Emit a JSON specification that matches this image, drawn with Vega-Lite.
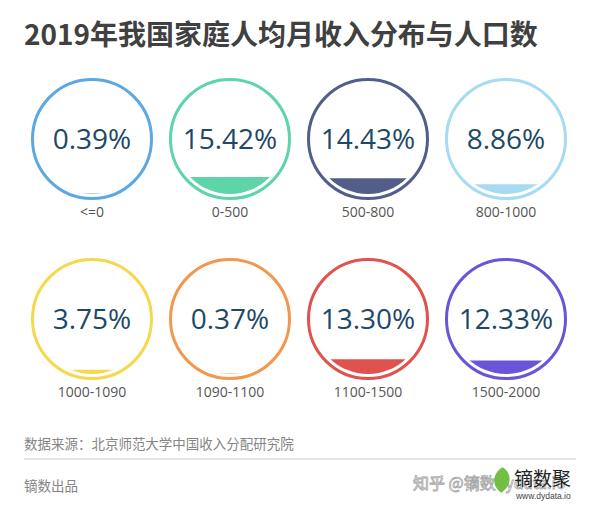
{
  "$schema": "https://vega.github.io/schema/vega-lite/v6.json",
  "background": "white",
  "padding": {"left": 23.17, "top": 0, "right": 0, "bottom": 0},
  "spacing": 0,
  "config": {
    "view": {"stroke": null},
    "font": "Noto Sans CJK SC",
    "header": {"labels": false, "title": null, "labelExpr": "''", "labelFontSize": 1, "labelPadding": 0, "titlePadding": 0},
    "headerFacet": {"labels": false, "title": null, "labelExpr": "''", "labelFontSize": 1, "labelPadding": 0, "titlePadding": 0}
  },
  "vconcat": [
    {
      "width": 576.83,
      "height": 68,
      "data": {"values": [{"t": "2019年我国家庭人均月收入分布与人口数"}]},
      "mark": {"type": "text", "align": "left", "baseline": "alphabetic", "fontSize": 28, "fontWeight": "bold", "color": "#404040", "font": "Noto Sans CJK SC"},
      "encoding": {
        "x": {"datum": 24, "type": "quantitative", "scale": {"domain": [23.17, 600], "nice": false, "zero": false}, "axis": null},
        "y": {"datum": 45, "type": "quantitative", "scale": {"domain": [0, 68], "reverse": true, "nice": false, "zero": false}, "axis": null},
        "text": {"field": "t"}
      }
    },
    {
      "data": {"values": [
        {"range": "<=0", "share": 0.0039},
        {"range": "0-500", "share": 0.1542},
        {"range": "500-800", "share": 0.1443},
        {"range": "800-1000", "share": 0.0886},
        {"range": "1000-1090", "share": 0.0375},
        {"range": "1090-1100", "share": 0.0037},
        {"range": "1100-1500", "share": 0.1330},
        {"range": "1500-2000", "share": 0.1233}
      ]},
      "columns": 4,
      "spacing": 0,
      "facet": {
        "field": "range", "type": "nominal", "title": null,
        "sort": ["<=0", "0-500", "500-800", "800-1000", "1000-1090", "1090-1100", "1100-1500", "1500-2000"],
        "header": {"title": null, "labels": false, "labelExpr": "''", "labelFontSize": 1, "labelPadding": 0}
      },
      "spec": {
        "width": 137.67,
        "height": 179,
        "layer": [
          {
            "mark": {"type": "point", "shape": "circle", "filled": true, "opacity": 1, "size": 12100, "strokeWidth": 0},
            "encoding": {
              "x": {"datum": 0, "type": "quantitative", "scale": {"domain": [-68.83, 68.84], "nice": false, "zero": false}, "axis": null},
              "y": {"datum": 0.5, "type": "quantitative", "scale": {"domain": [-0.4909, 1.1364], "nice": false, "zero": false}, "axis": null},
              "color": {"field": "range", "type": "nominal", "legend": null,
                "scale": {"domain": ["<=0", "0-500", "500-800", "800-1000", "1000-1090", "1090-1100", "1100-1500", "1500-2000"],
                          "range": ["#5ba8e3", "#5dd5a8", "#525d8a", "#a6dbf2", "#f4d94e", "#f2984e", "#e0524e", "#6a55d8"]}}
            }
          },
          {
            "mark": {"type": "rect", "color": "white", "opacity": 1},
            "encoding": {
              "x": {"datum": -57, "type": "quantitative", "scale": {"domain": [-68.83, 68.84], "nice": false, "zero": false}, "axis": null},
              "x2": {"datum": 57},
              "y": {"field": "share", "type": "quantitative", "scale": {"domain": [-0.4909, 1.1364], "nice": false, "zero": false}, "axis": null},
              "y2": {"datum": 1.12}
            }
          },
          {
            "mark": {"type": "point", "shape": "circle", "filled": false, "opacity": 1, "size": 14161, "strokeWidth": 3},
            "encoding": {
              "x": {"datum": 0, "type": "quantitative", "scale": {"domain": [-68.83, 68.84], "nice": false, "zero": false}, "axis": null},
              "y": {"datum": 0.5, "type": "quantitative", "scale": {"domain": [-0.4909, 1.1364], "nice": false, "zero": false}, "axis": null},
              "color": {"field": "range", "type": "nominal", "legend": null,
                "scale": {"domain": ["<=0", "0-500", "500-800", "800-1000", "1000-1090", "1090-1100", "1100-1500", "1500-2000"],
                          "range": ["#5ba8e3", "#5dd5a8", "#525d8a", "#a6dbf2", "#f4d94e", "#f2984e", "#e0524e", "#6a55d8"]}}
            }
          },
          {
            "mark": {"type": "text", "font": "Open Sans", "fontSize": 28, "color": "#1d4866", "baseline": "middle", "align": "center", "dy": 2},
            "encoding": {
              "x": {"datum": 0, "type": "quantitative", "scale": {"domain": [-68.83, 68.84], "nice": false, "zero": false}, "axis": null},
              "y": {"datum": 0.5, "type": "quantitative", "scale": {"domain": [-0.4909, 1.1364], "nice": false, "zero": false}, "axis": null},
              "text": {"field": "share", "type": "quantitative", "format": ".2%"}
            }
          },
          {
            "mark": {"type": "text", "font": "Open Sans", "fontSize": 14, "color": "#555555", "baseline": "middle", "align": "center"},
            "encoding": {
              "x": {"datum": 0, "type": "quantitative", "scale": {"domain": [-68.83, 68.84], "nice": false, "zero": false}, "axis": null},
              "y": {"datum": -0.177, "type": "quantitative", "scale": {"domain": [-0.4909, 1.1364], "nice": false, "zero": false}, "axis": null},
              "text": {"field": "range", "type": "nominal"}
            }
          }
        ]
      }
    },
    {
      "width": 576.83,
      "height": 89,
      "layer": [
        {
          "data": {"values": [{"t": "数据来源：北京师范大学中国收入分配研究院"}]},
          "mark": {"type": "text", "align": "left", "baseline": "alphabetic", "fontSize": 13.5, "color": "#858585"},
          "encoding": {
            "x": {"datum": 24, "type": "quantitative", "scale": {"domain": [23.17, 600], "nice": false, "zero": false}, "axis": null},
            "y": {"datum": 21, "type": "quantitative", "scale": {"domain": [0, 89], "reverse": true, "nice": false, "zero": false}, "axis": null},
            "text": {"field": "t"}
          }
        },
        {
          "data": {"values": [{}]},
          "mark": {"type": "rule", "color": "#cccccc", "strokeWidth": 1},
          "encoding": {
            "x": {"datum": 24, "type": "quantitative", "scale": {"domain": [23.17, 600], "nice": false, "zero": false}, "axis": null},
            "x2": {"datum": 576},
            "y": {"datum": 31, "type": "quantitative", "scale": {"domain": [0, 89], "reverse": true, "nice": false, "zero": false}, "axis": null}
          }
        },
        {
          "data": {"values": [{"t": "镝数出品"}]},
          "mark": {"type": "text", "align": "left", "baseline": "alphabetic", "fontSize": 13.5, "color": "#858585"},
          "encoding": {
            "x": {"datum": 24, "type": "quantitative", "scale": {"domain": [23.17, 600], "nice": false, "zero": false}, "axis": null},
            "y": {"datum": 63, "type": "quantitative", "scale": {"domain": [0, 89], "reverse": true, "nice": false, "zero": false}, "axis": null},
            "text": {"field": "t"}
          }
        },
        {
          "data": {"values": [{"t": "知乎 @镝数dydata.io"}]},
          "mark": {"type": "text", "align": "left", "baseline": "alphabetic", "fontSize": 16, "fill": "#ffffff", "stroke": "#a8a8a8", "strokeWidth": 0.8},
          "encoding": {
            "x": {"datum": 413, "type": "quantitative", "scale": {"domain": [23.17, 600], "nice": false, "zero": false}, "axis": null},
            "y": {"datum": 61, "type": "quantitative", "scale": {"domain": [0, 89], "reverse": true, "nice": false, "zero": false}, "axis": null},
            "text": {"field": "t"}
          }
        },
        {
          "data": {"values": [{}]},
          "mark": {"type": "point", "filled": true, "opacity": 1, "size": 650, "color": "#72bf46", "shape": "M0.2,-1 C0.9,-0.6 1,0.4 0.1,1 C-0.7,0.4 -0.6,-0.5 0.2,-1 Z"},
          "encoding": {
            "x": {"datum": 500, "type": "quantitative", "scale": {"domain": [23.17, 600], "nice": false, "zero": false}, "axis": null},
            "y": {"datum": 52, "type": "quantitative", "scale": {"domain": [0, 89], "reverse": true, "nice": false, "zero": false}, "axis": null}
          }
        },
        {
          "data": {"values": [{"t": "镝数聚"}]},
          "mark": {"type": "text", "align": "left", "baseline": "alphabetic", "fontSize": 19, "color": "#222222"},
          "encoding": {
            "x": {"datum": 514, "type": "quantitative", "scale": {"domain": [23.17, 600], "nice": false, "zero": false}, "axis": null},
            "y": {"datum": 58, "type": "quantitative", "scale": {"domain": [0, 89], "reverse": true, "nice": false, "zero": false}, "axis": null},
            "text": {"field": "t"}
          }
        },
        {
          "data": {"values": [{"t": "www.dydata.io"}]},
          "mark": {"type": "text", "align": "left", "baseline": "middle", "fontSize": 8.5, "color": "#444444", "font": "Liberation Sans"},
          "encoding": {
            "x": {"datum": 516, "type": "quantitative", "scale": {"domain": [23.17, 600], "nice": false, "zero": false}, "axis": null},
            "y": {"datum": 68, "type": "quantitative", "scale": {"domain": [0, 89], "reverse": true, "nice": false, "zero": false}, "axis": null},
            "text": {"field": "t"}
          }
        }
      ]
    }
  ]
}
